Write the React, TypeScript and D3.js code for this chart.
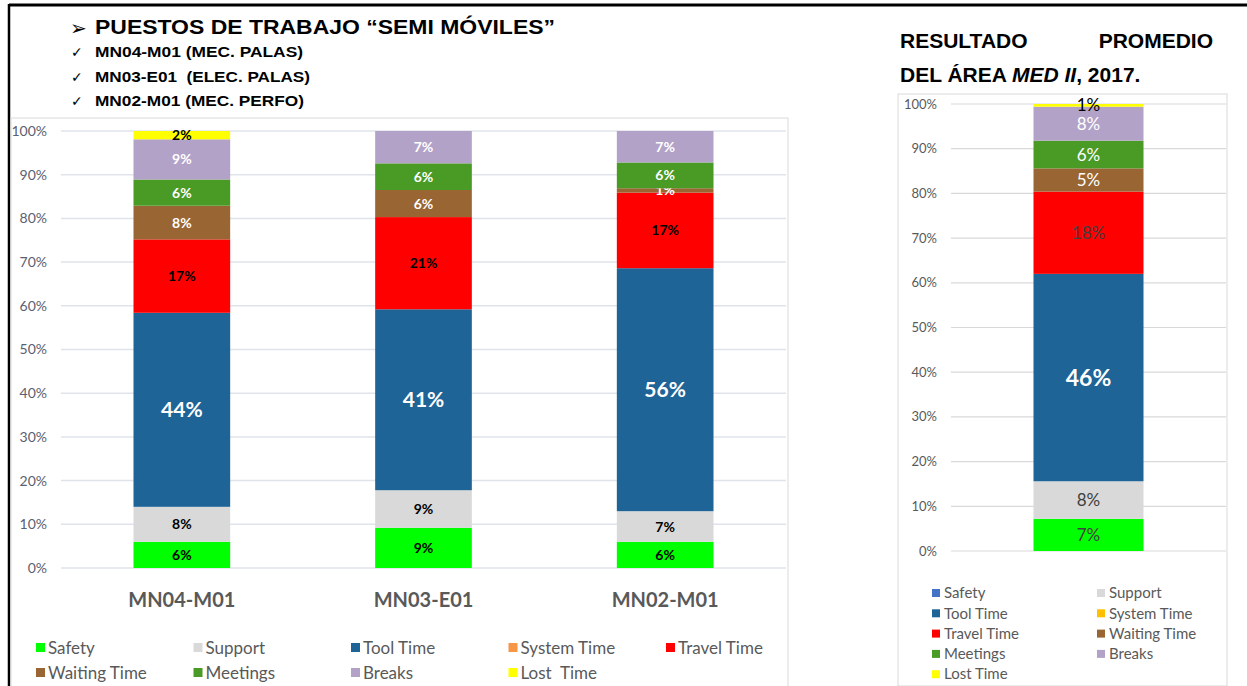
import React from "react";
import * as d3 from "d3";

// left chart: per-workstation shares (%)
const categories = ["MN04-M01", "MN03-E01", "MN02-M01"];
const safety = [6.0, 9.2, 6.0];
const support = [8.0, 8.6, 7.0];
const toolTime = [44.4, 41.4, 55.6];
const systemTime = [0, 0, 0];
const travelTime = [16.8, 21.1, 17.3];
const waitingTime = [7.7, 6.2, 1.0];
const meetings = [6.0, 6.1, 5.9];
const breaks = [9.2, 7.4, 7.2];
const lostTime = [1.9, 0, 0];

// right chart: area average
const avgCategory = ["MED II"];
const avgValues = [7.2, 8.4, 46.4, 0, 18.4, 5.2, 6.2, 7.6, 0.6];

const seriesKeys = [
  "Safety",
  "Support",
  "Tool Time",
  "System Time",
  "Travel Time",
  "Waiting Time",
  "Meetings",
  "Breaks",
  "Lost Time",
];
const leftLegendLabels = [
  "Safety",
  "Support",
  "Tool Time",
  "System Time",
  "Travel Time",
  "Waiting Time",
  "Meetings",
  "Breaks",
  "Lost  Time",
];
const yTicks = [0, 10, 20, 30, 40, 50, 60, 70, 80, 90, 100];

const barColors: Record<string, string> = {
  Safety: "#00ff00",
  Support: "#d9d9d9",
  "Tool Time": "#1f6497",
  "System Time": "#f79646",
  "Travel Time": "#ff0000",
  "Waiting Time": "#996633",
  Meetings: "#4a9a26",
  Breaks: "#b3a2c7",
  "Lost Time": "#ffff00",
};
// the right legend uses Excel's other palette for two entries
const rightLegendColors: Record<string, string> = {
  ...barColors,
  Safety: "#4472c4",
  "System Time": "#ffc000",
};
const leftLabelColor: Record<string, string> = {
  Safety: "#000",
  Support: "#000",
  "Tool Time": "#fff",
  "System Time": "#000",
  "Travel Time": "#000",
  "Waiting Time": "#fff",
  Meetings: "#fff",
  Breaks: "#fff",
  "Lost Time": "#000",
};
const rightLabelColor: Record<string, string> = {
  ...leftLabelColor,
  Safety: "#404040",
  Support: "#404040",
  "Travel Time": "#404040",
};

const FONT = "Lato, 'Open Sans', sans-serif";
const ARIAL = "'Liberation Sans', Arial, sans-serif";

const leftRows = categories.map((c, i) => {
  const cols = [safety, support, toolTime, systemTime, travelTime, waitingTime, meetings, breaks, lostTime];
  const row: any = { cat: c };
  seriesKeys.forEach((k, j) => (row[k] = cols[j][i]));
  return row;
});
const rightRows = avgCategory.map((c) => {
  const row: any = { cat: c };
  seriesKeys.forEach((k, j) => (row[k] = avgValues[j]));
  return row;
});

const stack = d3.stack<any>().keys(seriesKeys);

function Bars({ rows, x, y, labelColor, small, big, weight }: any) {
  const layers = stack(rows);
  return (
    <g>
      {layers.map((layer) =>
        layer.map((d: any) => {
          const v = d[1] - d[0];
          if (v <= 0) return null;
          const key = layer.key;
          const x0 = x(d.data.cat);
          const y0 = y(d[1]);
          const h = y(d[0]) - y(d[1]);
          const isTool = key === "Tool Time";
          return (
            <g key={key + d.data.cat}>
              <rect x={x0} y={y0} width={x.bandwidth()} height={h} fill={barColors[key]} />
              <text
                x={x0 + x.bandwidth() / 2}
                y={y0 + h / 2}
                dy="0.36em"
                textAnchor="middle"
                fontFamily={FONT}
                fontWeight={isTool ? 700 : weight}
                fontSize={isTool ? big : small}
                fill={labelColor[key]}
              >
                {Math.round(v)}%
              </text>
            </g>
          );
        })
      )}
    </g>
  );
}

export default function App() {
  const yL = d3.scaleLinear().domain([0, 100]).range([568, 131]);
  const xL = d3.scaleBand().domain(categories).range([61, 786]).paddingInner(0.6).paddingOuter(0.3);
  const yR = d3.scaleLinear().domain([0, 100]).range([551, 104]);
  const xR = d3.scaleBand().domain(avgCategory).range([951, 1226]).paddingInner(0.6).paddingOuter(0.3);

  return (
    <svg
      width={1247}
      height={686}
      style={{ position: "absolute", left: 0, top: 0, background: "#fff" }}
    >
      {/* frame lines */}
      <line x1={9} x2={1247} y1={5} y2={5} stroke="#000" strokeWidth={3} />
      <line x1={9} x2={9} y1={4} y2={686} stroke="#000" strokeWidth={2.5} />

      {/* left heading */}
      <text x={70} y={35} fontFamily="'DejaVu Sans', sans-serif" fontSize={20} fill="#000">➢</text>
      <text x={95} y={34} fontFamily={ARIAL} fontWeight={700} fontSize={20} textLength={460} lengthAdjust="spacingAndGlyphs">
        PUESTOS DE TRABAJO “SEMI MÓVILES”
      </text>
      {["MN04-M01 (MEC. PALAS)", "MN03-E01  (ELEC. PALAS)", "MN02-M01 (MEC. PERFO)"].map((t, i) => (
        <g key={t}>
          <text x={71} y={57 + i * 24.5} fontFamily="'DejaVu Sans', sans-serif" fontSize={14}>✓</text>
          <text x={95} y={57 + i * 24.5} fontFamily={ARIAL} fontWeight={700} fontSize={14} xmlSpace="preserve" textLength={[208, 215, 209][i]} lengthAdjust="spacingAndGlyphs">
            {t}
          </text>
        </g>
      ))}

      {/* left chart */}
      <rect x={11} y={118} width={777} height={580} fill="none" stroke="#d9d9d9" />
      {yTicks.map((t) => (
        <g key={"gl" + t}>
          <line x1={61} x2={786} y1={yL(t)} y2={yL(t)} stroke="#dfe3ea" strokeWidth={1.5} />
          <text x={47} y={yL(t)} dy="0.35em" textAnchor="end" fontFamily={FONT} fontSize={14} fill="#5b6070">
            {t}%
          </text>
        </g>
      ))}
      <Bars rows={leftRows} x={xL} y={yL} labelColor={leftLabelColor} small={14} big={21} weight={700} />
      {categories.map((c) => (
        <text key={c} x={xL(c)! + xL.bandwidth() / 2} y={607} textAnchor="middle" fontFamily={FONT} fontWeight={700} fontSize={20} fill="#595959">
          {c}
        </text>
      ))}
      {leftLegendLabels.map((l, i) => {
        const col = i % 5;
        const row = Math.floor(i / 5);
        const lx = 36 + col * 157.5;
        const ly = 648 + row * 25;
        return (
          <g key={l}>
            <rect x={lx} y={ly - 5} width={9} height={9} fill={barColors[seriesKeys[i]]} />
            <text x={lx + 12} y={ly} dy="0.35em" fontFamily={FONT} fontSize={17} fill="#595959" xmlSpace="preserve">
              {l}
            </text>
          </g>
        );
      })}

      {/* right heading */}
      <text x={900} y={48} fontFamily={ARIAL} fontWeight={700} fontSize={21}>RESULTADO</text>
      <text x={1213} y={48} textAnchor="end" fontFamily={ARIAL} fontWeight={700} fontSize={21}>PROMEDIO</text>
      <text x={900} y={82} fontFamily={ARIAL} fontWeight={700} fontSize={21}>
        DEL ÁREA <tspan fontStyle="italic">MED II</tspan>, 2017.
      </text>

      {/* right chart */}
      <rect x={898} y={94} width={329} height={592} fill="none" stroke="#d9d9d9" />
      {yTicks.map((t) => (
        <g key={"gr" + t}>
          <line x1={951} x2={1226} y1={yR(t)} y2={yR(t)} stroke="#d9d9d9" strokeWidth={1.2} />
          <text x={937} y={yR(t)} dy="0.35em" textAnchor="end" fontFamily={FONT} fontSize={13} fill="#595959">
            {t}%
          </text>
        </g>
      ))}
      <Bars rows={rightRows} x={xR} y={yR} labelColor={rightLabelColor} small={17} big={23} weight={400} />
      {seriesKeys.map((k, i) => {
        const col = i % 2;
        const row = Math.floor(i / 2);
        const lx = 932 + col * 165;
        const ly = 593 + row * 20.3;
        return (
          <g key={"rl" + k}>
            <rect x={lx} y={ly - 4} width={8} height={8} fill={rightLegendColors[k]} />
            <text x={lx + 12} y={ly} dy="0.35em" fontFamily={FONT} fontSize={15} fill="#595959">
              {k}
            </text>
          </g>
        );
      })}
    </svg>
  );
}
